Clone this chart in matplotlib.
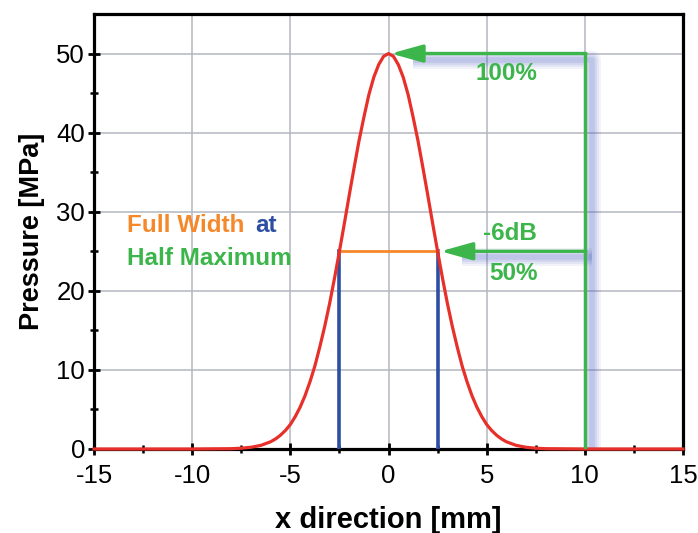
import matplotlib
matplotlib.use('Agg')
import matplotlib.pyplot as plt
from matplotlib.transforms import offset_copy

plt.rcParams['font.family'] = ['Liberation Sans', 'DejaVu Sans']
plt.rcParams['axes.unicode_minus'] = False

# pressure profile (mm, MPa)
x_mm = [-15, -12.5, -10, -8, -7.5, -7, -6.5, -6, -5.75, -5.5, -5.25, -5, -4.75, -4.5, -4.25, -4, -3.75,
        -3.5, -3.25, -3, -2.75, -2.5, -2.25, -2, -1.75, -1.5, -1.25, -1, -0.75, -0.5, -0.25,
        0, 0.25, 0.5, 0.75, 1, 1.25, 1.5, 1.75, 2, 2.25, 2.5, 2.75, 3, 3.25, 3.5, 3.75,
        4, 4.25, 4.5, 4.75, 5, 5.25, 5.5, 5.75, 6, 6.5, 7, 7.5, 8, 10, 12.5, 15]
p_mpa = [0, 0, 0, 0.04, 0.1, 0.22, 0.46, 0.92, 1.28, 1.75, 2.35, 3.1, 4.1, 5.3, 6.75, 8.5, 10.5,
         12.9, 15.5, 18.4, 21.6, 25.0, 28.5, 32.1, 35.6, 39.0, 42.0, 44.8, 47.0, 48.6, 49.65,
         50.0, 49.65, 48.6, 47.0, 44.8, 42.0, 39.0, 35.6, 32.1, 28.5, 25.0, 21.6, 18.4, 15.5, 12.9, 10.5,
         8.5, 6.75, 5.3, 4.1, 3.1, 2.35, 1.75, 1.28, 0.92, 0.46, 0.22, 0.1, 0.04, 0, 0, 0]

peak = 50
half = 25
fwhm_left, fwhm_right = -2.5, 2.5
ref_x = 10

x_ticks = [-15, -10, -5, 0, 5, 10, 15]
y_ticks = [0, 10, 20, 30, 40, 50]

red = '#e8302a'
green = '#3cb54a'
blue = '#2d4fa3'
orange = '#f5882a'
shadow = '#4a5cc0'

fig = plt.figure(figsize=(6.98, 5.33), dpi=100)
ax = fig.add_axes([0.1347, 0.1576, 0.8438, 0.8161])

ax.set_xlim(-15, 15)
ax.set_ylim(0, 55)
ax.set_xticks(x_ticks)
ax.set_yticks(y_ticks)
ax.set_xticks([-12.5, -7.5, -2.5, 2.5, 7.5, 12.5], minor=True)
ax.set_yticks([5, 15, 25, 35, 45], minor=True)
ax.grid(True, which='major', color='#b4b6c0', lw=1.1)
ax.set_axisbelow(True)

for s in ax.spines.values():
    s.set_linewidth(2.3)
ax.tick_params(which='major', direction='inout', length=9, width=2, labelsize=18.5, pad=2)
ax.tick_params(which='minor', direction='inout', length=6, width=1.8)
ax.tick_params(axis='x', which='major', pad=6)

# blurred blue shadow of the green arrows
sh = offset_copy(ax.transData, fig=fig, x=7, y=-6, units='dots')
for lw, a in [(13, 0.07), (10, 0.09), (7, 0.11), (4, 0.13)]:
    ax.plot([0.9, ref_x, ref_x], [peak, peak, 0], color=shadow, lw=lw, alpha=a,
            transform=sh, solid_capstyle='butt', zorder=2)
    ax.plot([3.4, ref_x], [half, half], color=shadow, lw=lw, alpha=a,
            transform=sh, solid_capstyle='butt', zorder=2)

# FWHM markers
ax.plot([fwhm_left, fwhm_left], [0, half], color=blue, lw=2.6, zorder=3)
ax.plot([fwhm_right, fwhm_right], [0, half], color=blue, lw=2.6, zorder=3)
ax.plot([fwhm_left, fwhm_right], [half, half], color=orange, lw=2, zorder=3)

ax.plot(x_mm, p_mpa, color=red, lw=2.3, zorder=4, clip_on=False)

# green arrows
ax.plot([ref_x, ref_x], [0, peak], color=green, lw=2.4, zorder=5, solid_capstyle='butt')
arw = dict(arrowstyle='-|>,head_length=0.97,head_width=0.27', color=green, lw=2.4,
           mutation_scale=20, shrinkA=0, shrinkB=0)
ax.annotate('', xy=(0.12, peak), xytext=(ref_x + 0.06, peak), arrowprops=arw, zorder=5)
ax.annotate('', xy=(2.65, half), xytext=(ref_x + 0.06, half), arrowprops=arw, zorder=5)

tk = dict(fontsize=17.5, fontweight='bold', color=green, ha='center', va='center')
ax.text(6.0, 47.5, '100%', **tk)
ax.text(6.2, 27.3, '-6dB', **tk)
ax.text(6.35, 22.2, '50%', **tk)

ann = dict(fontsize=17.5, fontweight='bold', va='center')
ax.text(-13.3, 28.2, 'Full Width', color=orange, **ann)
ax.text(-6.8, 28.2, 'at', color=blue, **ann)
ax.text(-13.3, 24.1, 'Half Maximum', color=green, **ann)

ax.set_xlabel('x direction [mm]', fontsize=21, fontweight='bold', labelpad=13)
ax.set_ylabel('Pressure [MPa]', fontsize=19.5, fontweight='bold', labelpad=8)

fig.savefig('out.png', dpi=100)
